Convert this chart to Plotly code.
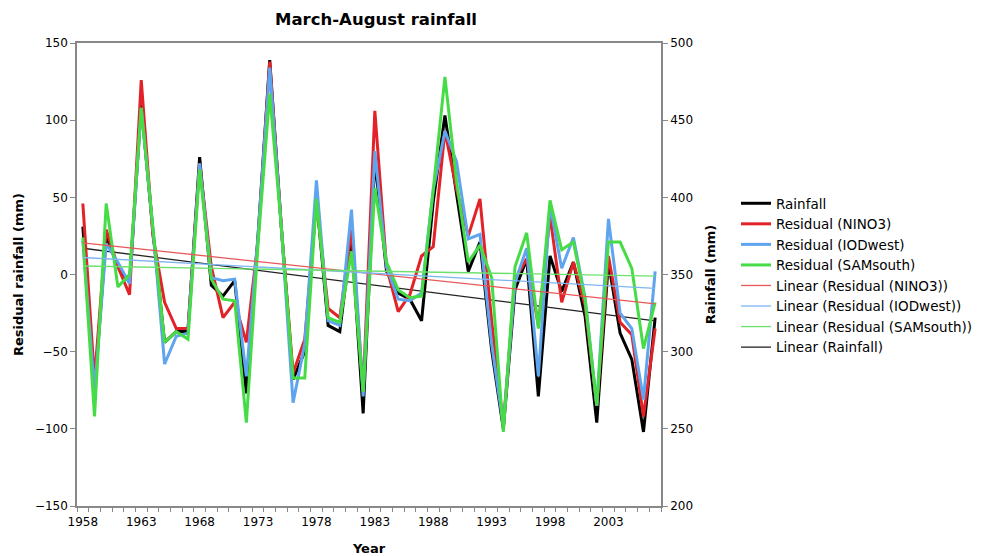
import plotly.graph_objects as go

years = list(range(1958, 2008))

# Residual rainfall (mm) on left axis
res_nino3 = [46, -68, 29, 5, -13, 126, 25, -18, -35, -35,
             72, 5, -28, -18, -44, 22, 138, 30, -64, -42,
             48, -22, -28, 29, -75, 106, 5, -24, -13, 12,
             18, 93, 55, 25, 49, -30, -98, -3, 10, -33,
             38, -18, 8, -20, -85, 12, -31, -39, -92, -35]
res_iodwest = [22, -75, 20, 8, -6, 108, 30, -58, -40, -38,
               72, -2, -4, -3, -66, 25, 134, 30, -83, -45,
               61, -30, -33, 42, -79, 80, 5, -16, -17, -12,
               55, 93, 73, 23, 26, -45, -98, -5, 17, -66,
               45, 4, 24, -15, -85, 36, -25, -35, -81, 2]
res_samsouth = [24, -92, 46, -8, 0, 108, 30, -44, -37, -42,
                68, -3, -16, -17, -96, 20, 117, 30, -67, -67,
                49, -28, -31, 15, -76, 56, 8, -10, -15, -14,
                55, 128, 60, 8, 19, -2, -102, 5, 27, -35,
                48, 16, 21, -16, -85, 21, 21, 4, -48, -18]
# Rainfall (mm) on right axis
rainfall = [381, 275, 375, 355, 345, 460, 378, 306, 313, 313,
            426, 343, 336, 346, 273, 375, 489, 380, 282, 300,
            400, 317, 313, 375, 260, 425, 352, 338, 334, 320,
            397, 453, 402, 352, 371, 301, 250, 340, 360, 271,
            362, 339, 358, 323, 254, 358, 312, 295, 248, 322]

# Linear trend end values (first year, last year)
trend_nino3 = [20.5, -19]
trend_iodwest = [11, -9]
trend_samsouth = [5.5, -1]
trend_rainfall = [367, 320]
trend_years = [1958, 2007]

W, H = 985, 548  # page body adds an 8px margin

fig = go.Figure()
# Rainfall on the base (right-hand) axis so residuals draw above it
fig.add_trace(go.Scatter(x=years, y=rainfall, name="Rainfall", mode="lines",
                         line=dict(color="#000000", width=3), yaxis="y"))
fig.add_trace(go.Scatter(x=years, y=res_nino3, name="Residual (NINO3)", mode="lines",
                         line=dict(color="#E32227", width=3), yaxis="y2"))
fig.add_trace(go.Scatter(x=years, y=res_iodwest, name="Residual (IODwest)", mode="lines",
                         line=dict(color="#5FA4EE", width=3), yaxis="y2"))
fig.add_trace(go.Scatter(x=years, y=res_samsouth, name="Residual (SAMsouth)", mode="lines",
                         line=dict(color="#46DC46", width=3), yaxis="y2"))
fig.add_trace(go.Scatter(x=trend_years, y=trend_nino3, name="Linear (Residual (NINO3))", mode="lines",
                         line=dict(color="#E85858", width=1.3), yaxis="y2"))
fig.add_trace(go.Scatter(x=trend_years, y=trend_iodwest, name="Linear (Residual (IODwest))", mode="lines",
                         line=dict(color="#7DB6F2", width=1.3), yaxis="y2"))
fig.add_trace(go.Scatter(x=trend_years, y=trend_samsouth, name="Linear (Residual (SAMsouth))", mode="lines",
                         line=dict(color="#6CE06C", width=1.3), yaxis="y2"))
fig.add_trace(go.Scatter(x=trend_years, y=trend_rainfall, name="Linear (Rainfall)", mode="lines",
                         line=dict(color="#222222", width=1.3), yaxis="y"))

axis_font = dict(family="DejaVu Sans", size=12, color="#000000")
fig.update_layout(
    width=W, height=H,
    margin=dict(l=69, r=332, t=35, b=50, autoexpand=False),
    paper_bgcolor="white", plot_bgcolor="white",
    font=dict(family="DejaVu Sans", size=12, color="#000000"),
    title=dict(text="<b>March-August rainfall</b>", x=(376 - 8) / W, xanchor="center",
               y=1 - 11 / H, yanchor="middle", font=dict(size=16.5, family="DejaVu Sans")),
    showlegend=True,
    legend=dict(x=(736 - 8) / W, xref="container", y=1 - (188 - 8) / H, yref="container",
                xanchor="left", yanchor="top", tracegroupgap=0,
                font=dict(size=13.5, family="DejaVu Sans"), itemwidth=30,
                bgcolor="rgba(0,0,0,0)"),
    xaxis=dict(range=[1957.5, 2007.5], tickvals=list(range(1958, 2008, 5)),
               ticks="outside", ticklen=4, tickcolor="rgba(0,0,0,0)",
               showline=True, linecolor="#888888", linewidth=1.5, mirror=True,
               showgrid=False, zeroline=False, tickfont=axis_font, automargin=False,
               minor=dict(tick0=1957.5, dtick=1, ticks="outside", ticklen=4,
                          tickcolor="#888888", showgrid=False),
               title=dict(text="<b>Year</b>", font=dict(size=13), standoff=16)),
    yaxis=dict(range=[200, 500], dtick=50, side="right",
               ticks="outside", ticklen=5, tickcolor="#888888", showline=True,
               linecolor="#888888", linewidth=1.5, showgrid=False, zeroline=False,
               tickfont=axis_font, automargin=False,
               title=dict(text="<b>Rainfall (mm)</b>", font=dict(size=13), standoff=14)),
    yaxis2=dict(range=[-150, 150], dtick=50, overlaying="y", side="left",
                ticks="outside", ticklen=5, tickcolor="#888888", showline=True,
                linecolor="#888888", linewidth=1.5, showgrid=False, zeroline=False,
                tickfont=axis_font, automargin=False,
                title=dict(text="<b>Residual rainfall (mm)</b>", font=dict(size=13), standoff=8)),
)

fig.write_html("out.html")
